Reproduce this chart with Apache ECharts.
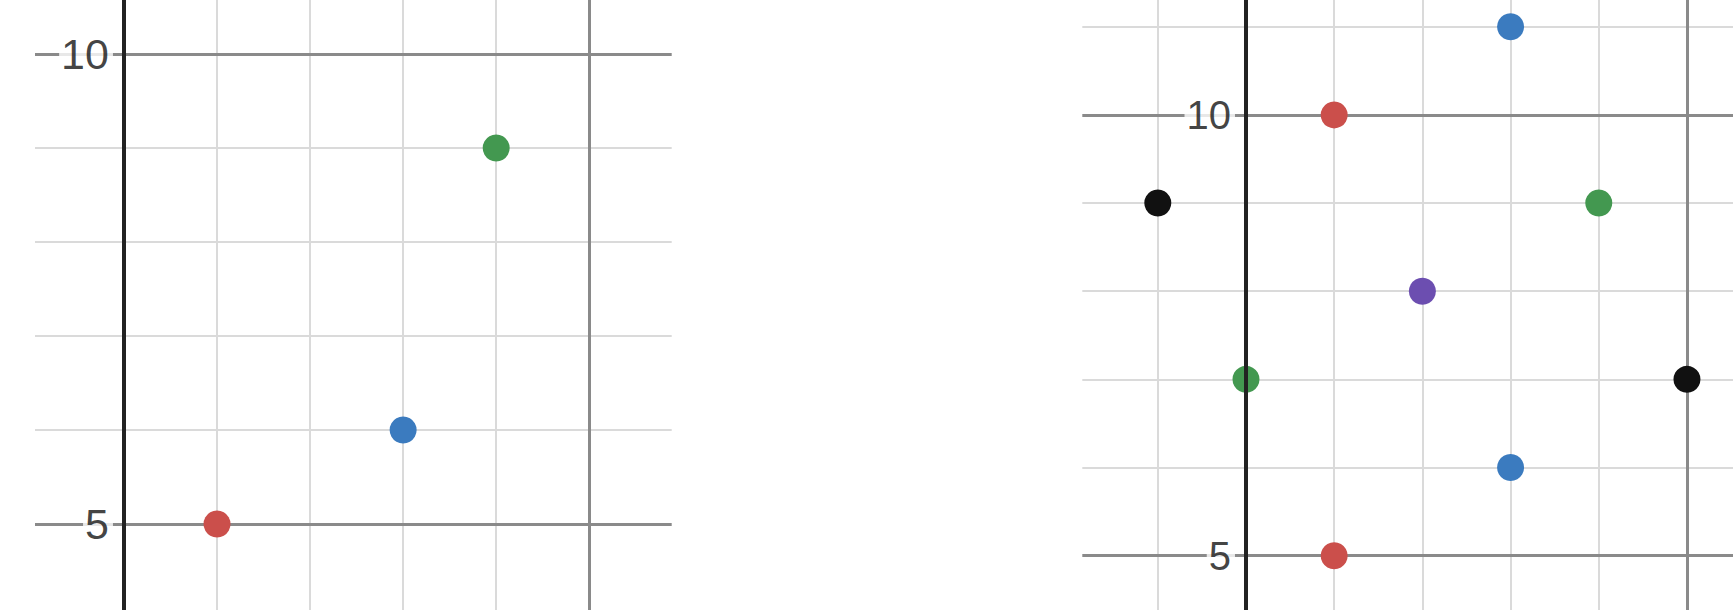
<!DOCTYPE html>
<html>
<head>
<meta charset="utf-8">
<script src="https://cdn.jsdelivr.net/npm/echarts@6/dist/echarts.min.js"></script>
<style>
html,body{margin:0;padding:0;background:#fff;}
#chart{width:1733px;height:610px;}
</style>
</head>
<body>
<div id="chart"></div>
<script>
// ---- data ----
// left panel points
const leftRed    = [[1, 5]];
const leftBlue   = [[3, 6]];
const leftGreen  = [[4, 9]];
// right panel points
const rightRed    = [[1, 10], [1, 5]];
const rightBlue   = [[3, 11], [3, 6]];
const rightGreen  = [[4, 9], [0, 7]];
const rightPurple = [[2, 8]];
const rightBlack  = [[-1, 9], [5, 7]];
// tick labels on the y axis
const yTickLabels = [5, 10];
// grid lines (values)
const leftMinorX  = [1, 2, 3, 4];
const leftMajorX  = [5];
const leftMinorY  = [6, 7, 8, 9];
const leftMajorY  = [5, 10];
const rightMinorX = [-1, 1, 2, 3, 4];
const rightMajorX = [5];
const rightMinorY = [6, 7, 8, 9, 11];
const rightMajorY = [5, 10];
// visible window of each panel
const leftXRange  = [-0.956, 5.886];
const leftYRange  = [4.085, 10.574];
const rightXRange = [-1.856, 5.522];
const rightYRange = [4.384, 11.303];

// ---- styles ----
const COLORS = { red: '#cb4f4b', blue: '#3b7bbf', green: '#439850', purple: '#6c4eb0', black: '#111111' };
const MINOR = { color: '#dadada', width: 2 };
const MAJOR = { color: '#8a8a8a', width: 3 };
const AXIS  = { color: '#222222', width: 4 };
const FONT  = 'Liberation Sans';

function gridLines(gi, xs, ys, style, z) {
  const data = xs.map(v => ({ xAxis: v })).concat(ys.map(v => ({ yAxis: v })));
  return {
    type: 'scatter', xAxisIndex: gi, yAxisIndex: gi, data: [], silent: true, z: z,
    markLine: {
      silent: true, z: z, symbol: ['none', 'none'], animation: false,
      label: { show: false },
      emphasis: { disabled: true },
      lineStyle: { type: 'solid', color: style.color, width: style.width, opacity: 1 },
      data: data
    }
  };
}
function points(gi, data, color) {
  return {
    type: 'scatter', xAxisIndex: gi, yAxisIndex: gi, data: data, z: 5,
    symbol: 'circle', symbolSize: 27, silent: true, animation: false,
    itemStyle: { color: color, opacity: 1 }
  };
}
function tickLabels(gi, fontSize) {
  return {
    type: 'scatter', xAxisIndex: gi, yAxisIndex: gi, z: 9, silent: true, animation: false,
    symbol: 'circle', symbolSize: 0,
    data: yTickLabels.map(v => [0, v]),
    label: {
      show: true, position: 'left', distance: 11,
      formatter: p => String(p.value[1]),
      fontSize: fontSize, fontFamily: FONT, color: '#111111',
      backgroundColor: '#ffffff', padding: [0, 4, 0, 2]
    },
    labelLayout: { hideOverlap: false }
  };
}
function yAxisFor(gi, range) {
  return {
    type: 'value', gridIndex: gi, min: range[0], max: range[1], z: 8,
    splitLine: { show: false },
    axisTick: { show: false },
    axisLabel: { show: false },
    axisLine: { show: true, onZero: true, lineStyle: { color: AXIS.color, width: AXIS.width } }
  };
}
function xAxisFor(gi, range) {
  return {
    type: 'value', gridIndex: gi, min: range[0], max: range[1],
    axisLine: { show: false }, axisTick: { show: false }, axisLabel: { show: false },
    splitLine: { show: false }
  };
}

const chart = echarts.init(document.getElementById('chart'), null, { renderer: 'svg' });
chart.setOption({
  backgroundColor: '#ffffff',
  animation: false,
  grid: [
    { left: 35, right: 1061.3, top: 0, bottom: 0, containLabel: false, outerBoundsMode: 'none' },
    { left: 1082.3, right: 0, top: 0, bottom: 0, containLabel: false, outerBoundsMode: 'none' }
  ],
  xAxis: [xAxisFor(0, leftXRange), xAxisFor(1, rightXRange)],
  yAxis: [yAxisFor(0, leftYRange), yAxisFor(1, rightYRange)],
  series: [
    gridLines(0, leftMinorX, leftMinorY, MINOR, 1),
    gridLines(0, leftMajorX, leftMajorY, MAJOR, 2),
    gridLines(1, rightMinorX, rightMinorY, MINOR, 1),
    gridLines(1, rightMajorX, rightMajorY, MAJOR, 2),
    points(0, leftRed, COLORS.red),
    points(0, leftBlue, COLORS.blue),
    points(0, leftGreen, COLORS.green),
    points(1, rightRed, COLORS.red),
    points(1, rightBlue, COLORS.blue),
    points(1, rightGreen, COLORS.green),
    points(1, rightPurple, COLORS.purple),
    points(1, rightBlack, COLORS.black),
    tickLabels(0, 43),
    tickLabels(1, 40)
  ]
});
</script>
</body>
</html>
